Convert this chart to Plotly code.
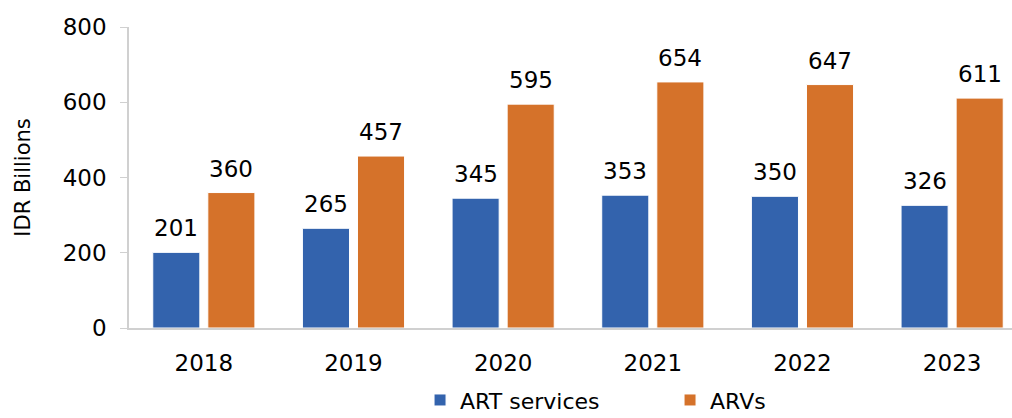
import plotly.graph_objects as go

years = ["2018", "2019", "2020", "2021", "2022", "2023"]
art_services = [201, 265, 345, 353, 350, 326]
arvs = [360, 457, 595, 654, 647, 611]

BLUE = "#3363AD"
ORANGE = "#D5722A"
FONT = "DejaVu Sans"

fig = go.Figure()
fig.add_trace(go.Bar(name="ART services", x=years, y=art_services,
                     marker=dict(color=BLUE, line=dict(color="white", width=1))))
fig.add_trace(go.Bar(name="ARVs", x=years, y=arvs,
                     marker=dict(color=ORANGE, line=dict(color="white", width=1))))

annotations = []
for vals, shift in ((art_services, -27.5), (arvs, 27.5)):
    for i, v in enumerate(vals):
        annotations.append(dict(x=i, y=v, xref="x", yref="y", text=str(v), showarrow=False,
                                xshift=shift, yshift=9, yanchor="bottom",
                                font=dict(family=FONT, size=23, color="#000")))

fig.update_layout(
    width=1012, height=418,
    margin=dict(l=129, r=0, t=27, b=90, autoexpand=False),
    paper_bgcolor="white", plot_bgcolor="white",
    barmode="group", bargap=0.264, bargroupgap=0.145,
    font=dict(family=FONT, size=23, color="#000"),
    annotations=annotations,
    showlegend=True,
    legend=dict(orientation="h", x=0.3296, xanchor="left", y=-0.17, yanchor="top",
                font=dict(family=FONT, size=22, color="#000"), itemwidth=30,
                entrywidth=205, entrywidthmode="pixels",
                traceorder="normal"),
    xaxis=dict(type="category", range=[-0.5, 5.4], showline=True, linecolor="#D0D0D0",
               linewidth=1.5, ticks="", showgrid=False, ticklabelstandoff=14,
               tickfont=dict(family=FONT, size=23)),
    yaxis=dict(range=[0, 800], dtick=200, showline=True, linecolor="#D0D0D0", linewidth=1.5,
               ticks="outside", ticklen=7, tickcolor="#D0D0D0", showgrid=False,
               zeroline=False, ticklabelstandoff=9,
               tickfont=dict(family=FONT, size=23),
               title=dict(text="IDR Billions", font=dict(family=FONT, size=21), standoff=26)),
)

fig.write_html("out.html")
